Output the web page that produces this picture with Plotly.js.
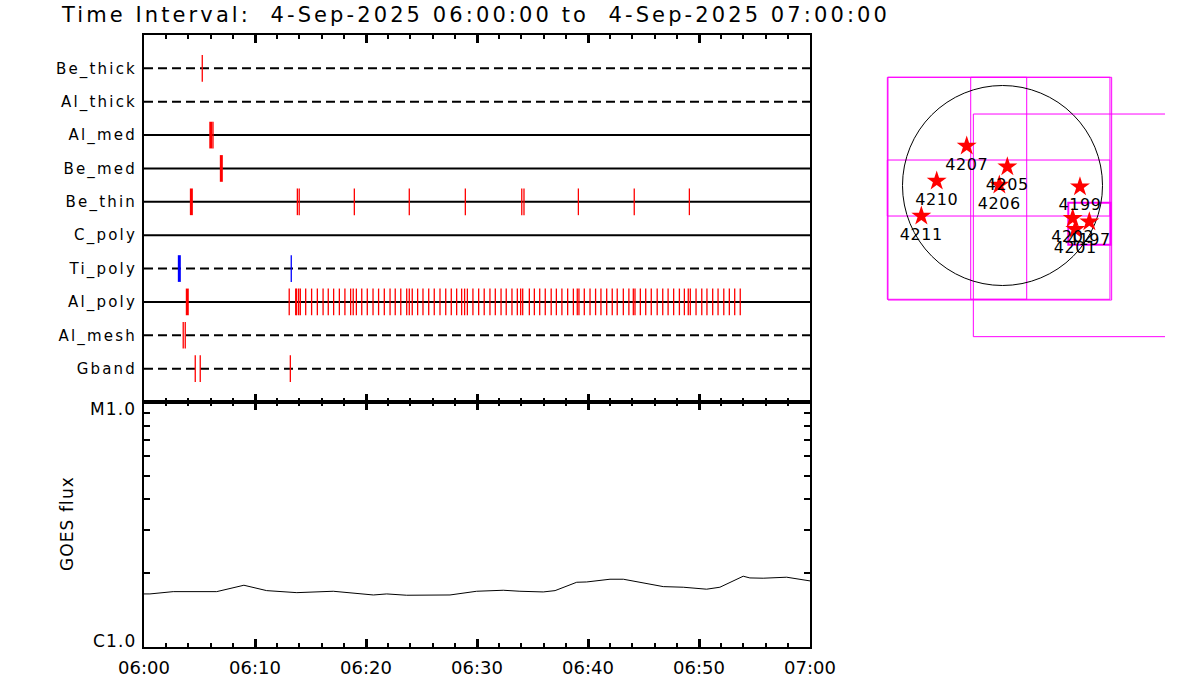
<!DOCTYPE html>
<html><head><meta charset="utf-8">
<script src="https://cdn.plot.ly/plotly-3.0.1.min.js"></script>
<style>
html,body{margin:0;padding:0;background:#fff;}
#chart{width:1200px;height:700px;}
.ytick text{letter-spacing:2.2px;}
.gtitle{letter-spacing:3.1px;}
.annotation-text{letter-spacing:1.1px;}
.textpoint text{letter-spacing:0.6px;}
</style>
</head><body><div id="chart"></div>
<script>
// ---------- DATA ----------
const DAY = '2025-09-04 ';
const startTime = '06:00:00';
const endTime = '07:00:00';
const titleText = 'Time Interval:\u00a0\u00a04-Sep-2025 06:00:00 to\u00a0\u00a04-Sep-2025 07:00:00';

const filterNames = ['Be_thick','Al_thick','Al_med','Be_med','Be_thin','C_poly','Ti_poly','Al_poly','Al_mesh','Gband'];

// exposure times (short = thin marks, long = thick marks)
const beThickShort = ['06:05:15'];
const alThickShort = [];
const alMedShort = ['06:06:13'];
const alMedLong = ['06:06:01'];
const beMedLong = ['06:06:58'];
const beThinShort = ['06:13:49','06:13:59','06:18:57','06:23:54','06:28:57','06:34:02','06:34:14','06:39:08','06:44:10','06:49:08'];
const beThinLong = ['06:04:16'];
const cPolyShort = [];
const tiPolyShort = ['06:13:16'];
const tiPolyLong = ['06:03:11'];
const alPolyShort = ['06:13:05','06:13:40','06:13:45','06:13:56','06:14:05','06:14:34','06:15:06','06:15:37','06:16:08','06:16:36',
  '06:17:05','06:17:36','06:18:06','06:18:37','06:18:51','06:19:08','06:19:37','06:20:07','06:20:38','06:21:08',
  '06:21:39','06:22:10','06:22:38','06:23:08','06:23:40','06:23:54','06:24:10','06:24:39','06:25:08','06:25:39',
  '06:26:09','06:26:40','06:27:11','06:27:41','06:28:10','06:28:37','06:28:53','06:29:08','06:29:38','06:30:09',
  '06:30:39','06:31:10','06:31:39','06:32:10','06:32:38','06:33:09','06:33:38','06:33:56','06:34:07','06:34:43',
  '06:35:10','06:35:39','06:36:09','06:36:41','06:37:09','06:37:39','06:38:10','06:38:41','06:39:02','06:39:11',
  '06:39:40','06:40:11','06:40:41','06:41:10','06:41:41','06:42:11','06:42:38','06:43:11','06:43:41','06:44:05',
  '06:44:14','06:44:43','06:45:12','06:45:42','06:46:14','06:46:44','06:47:13','06:47:43','06:48:14','06:48:41',
  '06:49:02','06:49:13','06:49:44','06:50:15','06:50:43','06:51:14','06:51:43','06:52:14','06:52:44','06:53:13','06:53:43'];
const alPolyLong = ['06:03:54'];
const alMeshShort = ['06:03:32','06:03:43'];
const gbandShort = ['06:04:37','06:05:04','06:13:11'];

// GOES flux (W/m^2)
const goesTimes = ['06:00:00','06:00:32','06:02:38','06:06:33','06:09:00','06:11:03','06:13:46','06:17:03','06:20:40','06:21:52',
  '06:23:40','06:26:40','06:27:34','06:29:58','06:32:22','06:33:52','06:35:58','06:37:02','06:38:59','06:39:53',
  '06:41:59','06:43:11','06:44:23','06:46:47','06:48:35','06:50:41','06:51:53','06:53:59','06:54:35','06:55:47',
  '06:57:54','06:58:48','07:00:00'];
const goesFlux = [1.643e-6,1.643e-6,1.679e-6,1.679e-6,1.783e-6,1.695e-6,1.663e-6,1.685e-6,1.627e-6,1.643e-6,
  1.623e-6,1.623e-6,1.627e-6,1.685e-6,1.701e-6,1.685e-6,1.674e-6,1.695e-6,1.834e-6,1.839e-6,
  1.887e-6,1.887e-6,1.845e-6,1.760e-6,1.750e-6,1.718e-6,1.750e-6,1.941e-6,1.910e-6,1.905e-6,
  1.923e-6,1.898e-6,1.857e-6];
const goesTickVals = [1e-6,2e-6,3e-6,4e-6,5e-6,6e-6,7e-6,8e-6,9e-6,1e-5];
const goesClassVals = [1e-6, 1e-5];
const goesClassText = ['C1.0', 'M1.0'];

// Solar disk map (arcsec)
const solarRadius = 950;
const arNumbers = ['4207','4205','4206','4210','4211','4199','4202','4197','4201'];
const arX = [-340, 46, -30, -625, -771, 736, 667, 825, 692];
const arY = [375, 179, 5, 43, -290, -11, -312, -344, -416];
const fovX0 = [-1094, -1088, -302, -1094, -277, 625];
const fovX1 = [1021, 1037, 230, 1021, 1838, 1028];
const fovY0 = [-1081, -1088, -1081, -290, -1436, -562];
const fovY1 = [1028, 1028, 1028, 242, 679, -163];

// ---------- STYLE ----------
const FONT = '"DejaVu Sans", "Liberation Sans", sans-serif';
const rowDash = ['9px,5px','9px,5px','solid','solid','solid','solid','9px,5px','solid','9px,5px','9px,5px'];
const markColor = ['#ff0000','#ff0000','#ff0000','#ff0000','#ff0000','#ff0000','#0000ff','#ff0000','#ff0000','#ff0000'];
const fovWidth = [1, 1, 1, 1, 1, 2];
const classLabelShift = [6, -7];
const labelDrop = 186; // arcsec below each star for its number label

const shortLists = [beThickShort, alThickShort, alMedShort, [], beThinShort, cPolyShort, tiPolyShort, alPolyShort, alMeshShort, gbandShort];
const longLists = [[], [], alMedLong, beMedLong, beThinLong, [], tiPolyLong, alPolyLong, [], []];

const px = (p, total) => p / total;
const W = 1200, H = 700;
const xDom = [px(144, W), px(810, W)];
const yDomTop = [1 - px(402, H), 1 - px(35, H)];
const yDomBot = [1 - px(646.7, H), 1 - px(402, H)];

const traces = [];
const nF = filterNames.length;
const rowOf = i => nF - i;

filterNames.forEach((f, i) => {
  const r = rowOf(i);
  traces.push({
    x: [DAY + startTime, DAY + endTime], y: [r, r], xaxis: 'x', yaxis: 'y',
    mode: 'lines', line: {color: '#000', width: 2, dash: rowDash[i]}, hoverinfo: 'skip'
  });
});

function markTrace(list, i, width) {
  const r = rowOf(i);
  const xs = [], ys = [];
  list.forEach(t => { xs.push(DAY + t, DAY + t, null); ys.push(r - 0.4, r + 0.4, null); });
  return {x: xs, y: ys, xaxis: 'x', yaxis: 'y', mode: 'lines',
    line: {color: markColor[i], width: width}, hoverinfo: 'skip', connectgaps: false};
}
filterNames.forEach((f, i) => {
  if (shortLists[i].length) traces.push(markTrace(shortLists[i], i, 1.3));
  if (longLists[i].length) traces.push(markTrace(longLists[i], i, 3));
});

traces.push({
  x: goesTimes.map(t => DAY + t), y: goesFlux, xaxis: 'x2', yaxis: 'y2',
  mode: 'lines', line: {color: '#000', width: 1}, hoverinfo: 'skip'
});

traces.push({
  x: arX, y: arY, xaxis: 'x3', yaxis: 'y3', mode: 'markers',
  marker: {symbol: 'star', size: 15, color: '#ff0000', line: {width: 0}},
  cliponaxis: false, hoverinfo: 'skip'
});
traces.push({
  x: arX, y: arY.map(v => v - labelDrop), xaxis: 'x3', yaxis: 'y3', mode: 'text',
  text: arNumbers, textposition: 'middle center',
  textfont: {family: FONT, size: 16, color: '#000'},
  cliponaxis: false, hoverinfo: 'skip'
});

const shapes = [];
fovX0.forEach((x0, k) => {
  shapes.push({type: 'rect', xref: 'x3', yref: 'y3', x0: x0, x1: fovX1[k], y0: fovY0[k], y1: fovY1[k],
    line: {color: '#ff00ff', width: fovWidth[k]}, fillcolor: 'rgba(0,0,0,0)', layer: 'below'});
});
shapes.push({type: 'circle', xref: 'x3', yref: 'y3', x0: -solarRadius, x1: solarRadius, y0: -solarRadius, y1: solarRadius,
  line: {color: '#000', width: 1}, layer: 'below'});

const timeAxisCommon = {
  type: 'date', range: [DAY + startTime, DAY + endTime], domain: xDom,
  showgrid: false, zeroline: false, showline: true, linecolor: '#000', linewidth: 2,
  ticks: 'inside', tickcolor: '#000', ticklen: 8, tickwidth: 3, dtick: 600000,
  tick0: DAY + startTime, mirror: 'allticks',
  minor: {ticks: 'inside', dtick: 120000, ticklen: 4, tickwidth: 2, tickcolor: '#000', showgrid: false}
};

const annotations = [{text: 'GOES flux', xref: 'paper', yref: 'paper', x: px(67, W), y: 1 - px(524, H),
  xanchor: 'center', yanchor: 'middle', textangle: -90, showarrow: false,
  font: {family: FONT, size: 17, color: '#000'}}];
goesClassVals.forEach((v, k) => {
  annotations.push({text: goesClassText[k], xref: 'paper', yref: 'y2', x: px(138, W), y: Math.log10(v),
    xanchor: 'right', yanchor: 'middle', yshift: classLabelShift[k], showarrow: false,
    font: {family: FONT, size: 17, color: '#000'}});
});

const layout = {
  width: W, height: H, margin: {l: 0, r: 0, t: 0, b: 0},
  paper_bgcolor: '#fff', plot_bgcolor: 'rgba(0,0,0,0)',
  showlegend: false, hovermode: false,
  font: {family: FONT, color: '#000'},
  title: {text: titleText, x: px(62, W), xanchor: 'left', y: 1 - px(15, H), yanchor: 'middle',
    font: {family: FONT, size: 21, color: '#000'}},
  xaxis: Object.assign({}, timeAxisCommon, {anchor: 'y', showticklabels: false}),
  yaxis: {domain: yDomTop, anchor: 'x', range: [0, nF + 1], showgrid: false, zeroline: false,
    showline: true, linecolor: '#000', linewidth: 2, mirror: true, ticks: '',
    tickvals: filterNames.map((f, i) => rowOf(i)), ticktext: filterNames,
    tickfont: {family: FONT, size: 15, color: '#000'}, ticklabelstandoff: 2},
  xaxis2: Object.assign({}, timeAxisCommon, {anchor: 'y2', tickformat: '%H:%M',
    tickfont: {family: FONT, size: 18, color: '#000'}, ticklabelstandoff: 4}),
  yaxis2: {domain: yDomBot, anchor: 'x2', type: 'log', range: [-6, -5], showgrid: false, zeroline: false,
    showline: true, linecolor: '#000', linewidth: 2, mirror: 'allticks',
    ticks: 'inside', ticklen: 6, tickwidth: 2, tickcolor: '#000',
    tickvals: goesTickVals, showticklabels: false},
  xaxis3: {domain: [px(880, W), px(1165, W)], anchor: 'y3', range: [-1163.75, 1543.75], visible: false},
  yaxis3: {domain: [1 - px(345, H), 1 - px(70, H)], anchor: 'x3', range: [-1515.25, 1097.25], visible: false},
  shapes: shapes,
  annotations: annotations
};

Plotly.newPlot('chart', traces, layout, {staticPlot: true, displayModeBar: false});
</script>
</body></html>
